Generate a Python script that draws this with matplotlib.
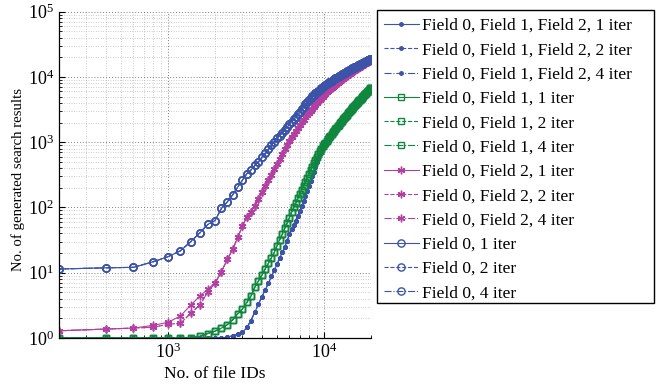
import matplotlib
matplotlib.use("Agg")
import matplotlib.pyplot as plt
from matplotlib.patches import Rectangle
from matplotlib.ticker import LogLocator, NullFormatter

plt.rcParams['font.family'] = ['Liberation Serif', 'DejaVu Serif']
plt.rcParams['mathtext.fontset'] = 'custom'
plt.rcParams['mathtext.rm'] = 'Liberation Serif'
plt.rcParams['mathtext.it'] = 'Liberation Serif:italic'

# x: number of file IDs (every 200 up to 20000)
file_ids = list(range(200, 20001, 200))

# Field 0, Field 1, Field 2 (1 iter; 2 and 4 iter overlap)
f012_1 = [1, 1, 1, 1, 1, 1, 1, 1, 1, 1,
          1.0, 1.03, 1.08, 1.15, 1.22, 1.45, 1.85, 2.5, 3.3, 4.3,
          5.5, 6.9, 8.8, 11, 13.5, 17, 20.5, 25, 31, 39,
          46, 54, 63, 75, 89, 106, 127, 151, 180, 214,
          254, 300, 355, 420, 490, 570, 655, 745, 830, 905,
          980, 1055, 1120, 1190, 1260, 1335, 1415, 1500, 1590, 1680,
          1770, 1860, 1950, 2045, 2140, 2240, 2340, 2440, 2545, 2650,
          2760, 2870, 2985, 3100, 3220, 3340, 3460, 3585, 3710, 3840,
          3970, 4100, 4235, 4370, 4510, 4650, 4795, 4940, 5090, 5240,
          5390, 5545, 5700, 5860, 6020, 6185, 6350, 6520, 6690, 6860]
f012_2 = f012_1
f012_4 = f012_1

# Field 0, Field 1
f01_1 = [1, 1, 1, 1, 1, 1, 1.01, 1.07, 1.17, 1.27,
         1.42, 1.6, 1.9, 2.35, 2.8, 3.5, 4.4, 6.0, 7.5, 9.2,
         11.5, 13.9, 17, 20.5, 26, 32, 39, 48, 58, 70,
         85, 100, 118, 138, 160, 186, 215, 248, 285, 325,
         370, 420, 475, 535, 600, 665, 730, 795, 860, 925,
         990, 1055, 1120, 1190, 1260, 1335, 1415, 1500, 1590, 1680,
         1770, 1860, 1950, 2045, 2140, 2240, 2340, 2440, 2545, 2650,
         2760, 2870, 2985, 3100, 3220, 3340, 3460, 3585, 3710, 3840,
         3970, 4100, 4235, 4370, 4510, 4650, 4795, 4940, 5090, 5240,
         5390, 5545, 5700, 5860, 6020, 6185, 6350, 6520, 6690, 6860]
f01_2 = f01_1
f01_4 = f01_1

# Field 0, Field 2
f02_1 = [1.29, 1.37, 1.42, 1.56, 1.74, 2.17, 3.2, 4.4, 5.6, 7.0,
         10.4, 16, 23, 35, 52, 72, 85, 105, 135, 170,
         215, 263, 315, 390, 470, 560, 670, 790, 920, 1050,
         1190, 1340, 1500, 1670, 1850, 2030, 2220, 2410, 2600, 2790,
         2990, 3200, 3450, 3710, 3970, 4230, 4490, 4750, 5010, 5270,
         5530, 5790, 6050, 6310, 6570, 6830, 7090, 7350, 7610, 7870,
         8130, 8390, 8650, 8910, 9170, 9430, 9690, 9950, 10210, 10470,
         10730, 10990, 11250, 11510, 11770, 12030, 12290, 12550, 12810, 13070,
         13330, 13590, 13850, 14110, 14370, 14630, 14890, 15150, 15410, 15670,
         15930, 16190, 16450, 16710, 16970, 17230, 17490, 17750, 18010, 18270]
f02_2 = [1.29, 1.37, 1.42, 1.46, 1.62, 1.68, 2.4, 3.2, 5.1, 6.9,
         10.4, 16, 23, 35, 52, 72, 85, 105, 135, 170,
         215, 263, 315, 390, 470, 560, 670, 790, 920, 1050,
         1190, 1340, 1500, 1670, 1850, 2030, 2220, 2410, 2600, 2790,
         2990, 3200, 3450, 3710, 3970, 4230, 4490, 4750, 5010, 5270,
         5530, 5790, 6050, 6310, 6570, 6830, 7090, 7350, 7610, 7870,
         8130, 8390, 8650, 8910, 9170, 9430, 9690, 9950, 10210, 10470,
         10730, 10990, 11250, 11510, 11770, 12030, 12290, 12550, 12810, 13070,
         13330, 13590, 13850, 14110, 14370, 14630, 14890, 15150, 15410, 15670,
         15930, 16190, 16450, 16710, 16970, 17230, 17490, 17750, 18010, 18270]
f02_4 = f02_2

# Field 0
f0_1 = [11.4, 11.9, 12.1, 14.7, 17.6, 21.7, 30, 41, 55, 63,
        97, 122, 157, 207, 263, 330, 375, 440, 500, 590,
        673, 780, 900, 1020, 1150, 1260, 1400, 1530, 1700, 1870,
        2050, 2250, 2450, 2680, 2900, 3200, 3520, 3840, 4150, 4450,
        4750, 5040, 5320, 5600, 5870, 6140, 6410, 6680, 6950, 7220,
        7480, 7740, 8000, 8260, 8510, 8760, 9010, 9260, 9510, 9760,
        10000, 10240, 10480, 10720, 10960, 11200, 11440, 11680, 11920, 12150,
        12380, 12610, 12840, 13070, 13300, 13530, 13760, 13990, 14220, 14450,
        14680, 14910, 15140, 15370, 15600, 15830, 16060, 16290, 16520, 16750,
        16980, 17210, 17440, 17670, 17900, 18130, 18360, 18590, 18820, 19050]
f0_2 = f0_1
f0_4 = f0_1

labels = ['Field 0, Field 1, Field 2, 1 iter', 'Field 0, Field 1, Field 2, 2 iter',
          'Field 0, Field 1, Field 2, 4 iter',
          'Field 0, Field 1, 1 iter', 'Field 0, Field 1, 2 iter', 'Field 0, Field 1, 4 iter',
          'Field 0, Field 2, 1 iter', 'Field 0, Field 2, 2 iter', 'Field 0, Field 2, 4 iter',
          'Field 0, 1 iter', 'Field 0, 2 iter', 'Field 0, 4 iter']
series = [f012_1, f012_2, f012_4, f01_1, f01_2, f01_4, f02_1, f02_2, f02_4, f0_1, f0_2, f0_4]

BLUE = '#3b54a8'
GREEN = '#10873f'
MAGENTA = '#b23fa2'
styles = ['-', '--', '-.']
groups = [
    (BLUE, '.', 5.0, BLUE),
    (GREEN, 's', 5.0, 'none'),
    (MAGENTA, (6, 2, 0), 5.5, MAGENTA),
    (BLUE, 'o', 5.2, 'none'),
]

W, H = 662, 391
fig = plt.figure(figsize=(W/100, H/100), dpi=100)
ax = fig.add_axes([59/W, 1-338/H, (371-59)/W, (338-11.7)/H])

for gi, (col, mk, ms, mfc) in enumerate(groups):
    for si in range(3):
        k = gi*3 + si
        ax.plot(file_ids, series[k], linestyle=styles[si], color=col, marker=mk,
                markersize=ms, markerfacecolor=mfc, markeredgecolor=col,
                markeredgewidth=1.0, linewidth=0.8, label=labels[k])

ax.set_xscale('log')
ax.set_yscale('log')
ax.set_xlim(200, 20000)
ax.set_ylim(1, 1e5)
ax.yaxis.set_major_locator(LogLocator(base=10, numticks=10))
ax.yaxis.set_minor_locator(LogLocator(base=10, subs=range(2, 10), numticks=20))
ax.yaxis.set_minor_formatter(NullFormatter())
ax.xaxis.set_minor_formatter(NullFormatter())

ax.grid(True, which='major', linestyle=(0, (1, 2.5)), color='#555555', linewidth=0.6)
ax.grid(True, which='minor', linestyle=(0, (1, 2.5)), color='#a0a0a0', linewidth=0.5)
ax.set_axisbelow(True)
for s in ['top', 'right']:
    ax.spines[s].set_visible(False)
for s in ['left', 'bottom']:
    ax.spines[s].set_linewidth(0.9)
ax.tick_params(which='both', direction='in', labelsize=13, top=False, right=False)
ax.tick_params(which='major', length=4)
ax.tick_params(which='minor', length=2)

ax.set_xlabel('No. of file IDs', fontsize=12.5, labelpad=3)
ax.set_ylabel('No. of generated search results', fontsize=10.6, labelpad=4)
ax.yaxis.set_label_coords(-0.108, 0.485)

leg = ax.legend(loc='upper left', bbox_to_anchor=(376/W, 1-10/H),
                bbox_transform=fig.transFigure, borderaxespad=0, fontsize=12.5,
                handlelength=2.0, labelspacing=0.47, handletextpad=0.2,
                borderpad=0.45, frameon=False)
fig.patches.append(Rectangle((377/W, 1-303/H), (654-377)/W, (303-10)/H,
                             transform=fig.transFigure, fill=False,
                             edgecolor='black', linewidth=1.0))

fig.savefig('out.png', dpi=100)
